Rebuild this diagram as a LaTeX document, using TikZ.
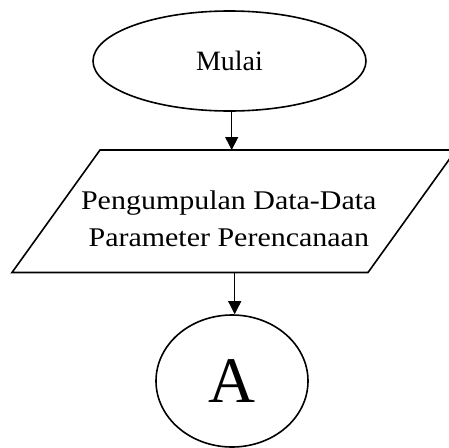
\documentclass[tikz,border=0pt]{standalone}
\usepackage{fontspec}
\setmainfont{Liberation Serif}
\newfontfamily\widefont[FakeStretch=1.11]{Liberation Serif}
\usetikzlibrary{shapes.geometric,arrows.meta}
\begin{document}
\begin{tikzpicture}[x=1pt,y=-1pt,
  outline/.style={draw=black, line width=1.6pt},
  flow/.style={draw=black, line width=0.9pt, -{Triangle[length=13pt,width=13pt]}},
  terminal/.style={outline, ellipse, inner sep=0pt, minimum width=273pt,
    minimum height=100pt, font=\fontsize{28}{34}\selectfont},
  connector/.style={outline, ellipse, inner sep=0pt, minimum width=152pt,
    minimum height=132pt, font=\fontsize{65}{70}\selectfont},
  iotext/.style={align=center, inner sep=0pt,
    font=\widefont\fontsize{27}{36.6}\selectfont},
]
\useasboundingbox (0,0) rectangle (449,447);
\clip (0,0) rectangle (449,447);
\fill[white] (0,0) rectangle (449,447);

% start terminal
\node[terminal] (start) at (229.5,61) {Mulai};

% input/output parallelogram
\coordinate (dTL) at (100,150);
\coordinate (dTR) at (456,150);
\coordinate (dBR) at (368,272.5);
\coordinate (dBL) at (12,272.5);
\draw[outline, line join=miter] (dTL) -- (dTR) -- (dBR) -- (dBL) -- cycle;
\node[iotext] (data) at (228.8,218.6) {Pengumpulan Data-Data\\Parameter Perencanaan};

% off-page connector
\node[connector] (A) at (232,381) {A};

% flow lines
\coordinate (inTop) at (231.7,150);
\coordinate (inBot) at (234.7,272.5);
\draw[flow] (start.south -| inTop) -- (inTop);
\draw[flow] (inBot) -- (A.north -| inBot);
\end{tikzpicture}
\end{document}
